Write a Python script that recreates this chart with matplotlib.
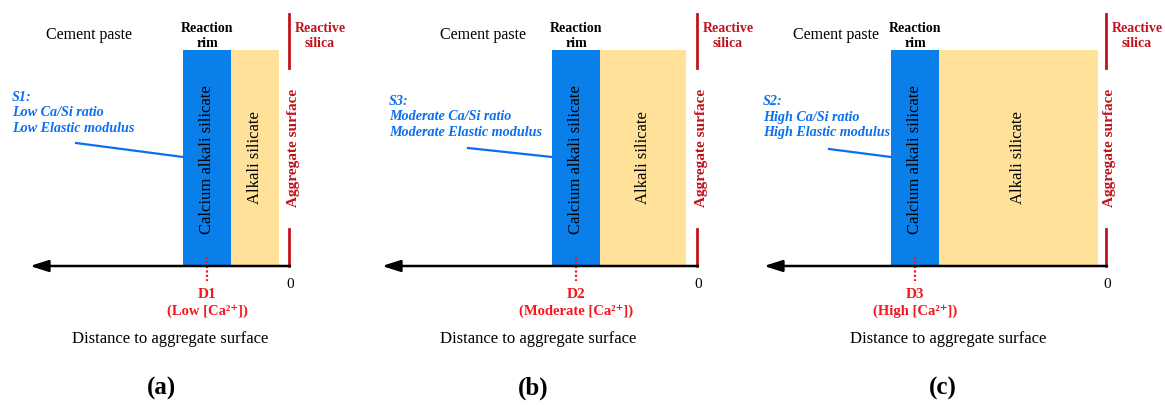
import matplotlib.pyplot as plt
from matplotlib.patches import Rectangle

plt.rcParams['font.family'] = ['Liberation Serif', 'DejaVu Serif']

# ---------------------------------------------------------------------------
# data: three rim scenarios (a), (b), (c)
# ---------------------------------------------------------------------------
panel_tags = ['(a)', '(b)', '(c)']
state_names = ['S1:', 'S3:', 'S2:']
state_levels = ['Low', 'Moderate', 'High']
d_names = ['D1', 'D2', 'D3']
# layer thickness (canvas px) measured from the aggregate surface
gap_width = [10, 11, 8]
alkali_width = [48, 86, 159]
calcium_width = [48, 48, 48]
axis_length = [259, 315, 342]

# layout (canvas px)
surface_x = [289, 697, 1106]
paste_x = [89, 483, 836]
note_x = [12, 389, 763]
leader_start = [(76, 143), (468, 148), (829, 149)]
dist_x = [170, 538, 948]
tag_x = [161, 533, 943]

BLUE = '#0A7FEA'
YELLOW = '#FFE19A'
DARKRED = '#C0141C'
RED = '#F5161E'
TXTBLUE = '#0A6FF0'

fig = plt.figure(figsize=(11.65, 4.05), dpi=100)
ax = fig.add_axes([0, 0, 1, 1])
ax.set_xlim(0, 1165)
ax.set_ylim(405, 0)
ax.axis('off')

top, base = 50, 265
for i in range(3):
    sx = surface_x[i]
    yel_r = sx - gap_width[i]
    yel_l = yel_r - alkali_width[i]
    blu_l = yel_l - calcium_width[i]
    blu_c = (blu_l + yel_l) / 2

    ax.add_patch(Rectangle((yel_l, top), alkali_width[i], base - top,
                           facecolor=YELLOW, edgecolor='none'))
    ax.add_patch(Rectangle((blu_l, top), calcium_width[i], base - top,
                           facecolor=BLUE, edgecolor='none'))

    # distance axis with arrow pointing away from the aggregate
    ax.annotate('', xy=(sx - axis_length[i], base + 1), xytext=(sx + 1, base + 1),
                arrowprops=dict(arrowstyle='-|>,head_length=1.1,head_width=0.35',
                                color='black', lw=1.8, shrinkA=0, shrinkB=0))

    # aggregate surface marker
    ax.plot([sx, sx], [14, 68], color=DARKRED, lw=2)
    ax.plot([sx, sx], [229, base + 1], color=DARKRED, lw=2)
    ax.text(sx + 4, 148, 'Aggregate surface', rotation=90, ha='center', va='center',
            color=DARKRED, fontsize=11, fontweight='bold')
    ax.text(sx + 31, 36, 'Reactive\nsilica', ha='center', va='center', color=DARKRED,
            fontsize=10, fontweight='bold', linespacing=1.2)
    ax.text(sx + 1, 284, '0', ha='center', va='center', fontsize=11)

    ax.text(blu_c, 36, 'Reaction\nrim', ha='center', va='center',
            fontsize=10, fontweight='bold', linespacing=1.2)
    ax.text(paste_x[i], 35, 'Cement paste', ha='center', va='center',
            fontsize=11.5)

    ax.text(blu_c, 160, 'Calcium alkali silicate', rotation=90, ha='center', va='center',
            fontsize=12)
    ax.text(yel_l + alkali_width[i] / 2, 158, 'Alkali silicate', rotation=90,
            ha='center', va='center', fontsize=12)

    # state annotation + leader
    lvl = state_levels[i]
    ax.text(note_x[i], 91 + (4 if i else 0),
            f'{state_names[i]}\n{lvl} Ca/Si ratio\n{lvl} Elastic modulus',
            ha='left', va='top', color=TXTBLUE, fontsize=10.2, fontweight='bold',
            fontstyle='italic', linespacing=1.25)
    ax.plot([leader_start[i][0], blu_l], [leader_start[i][1], 157], color=TXTBLUE, lw=1.6)

    # diffusion depth marker
    ax.plot([blu_c, blu_c], [257, 281], color=RED, lw=1.6, ls=(0, (1, 1)))
    ax.text(blu_c, 294, d_names[i], ha='center', va='center', color=RED,
            fontsize=11, fontweight='bold')
    ax.text(blu_c, 311, f'({lvl} [Ca\u00b2\u207a])', ha='center', va='center', color=RED,
            fontsize=10.5, fontweight='bold')

    ax.text(dist_x[i], 339, 'Distance to aggregate surface', ha='center', va='center',
            fontsize=12)
    ax.text(tag_x[i], 388, panel_tags[i], ha='center', va='center',
            fontsize=18, fontweight='bold')

fig.savefig('out.png', dpi=100)
